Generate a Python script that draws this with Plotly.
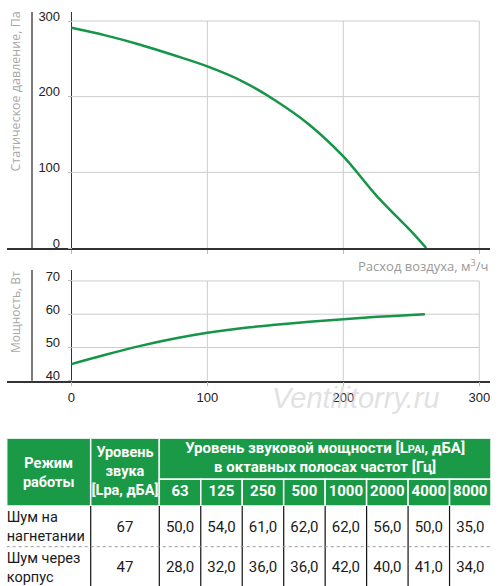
import plotly.graph_objects as go

# ---------------- data ----------------
flow_p = [0, 25, 50, 75, 100, 125, 150, 175, 200, 225, 250, 261]
pressure = [291, 281, 269, 255, 240, 221, 195, 163, 121, 68, 22, 0]
flow_w = [0, 25, 50, 75, 100, 125, 150, 175, 200, 225, 250, 260]
power = [45, 47.8, 50.4, 52.6, 54.4, 55.8, 56.8, 57.7, 58.5, 59.2, 59.8, 60]

flow_ticks = [0, 100, 200, 300]
p_ticks = [0, 100, 200, 300]
w_ticks = [40, 50, 60, 70]

head_mode = "Режим<br>работы"
head_level = "Уровень<br>звука<br>[Lpa, дБА]"
head_octave = "Уровень звуковой мощности [L<span style='font-size:11px'>PAI</span>, дБА]<br>в октавных полосах частот [Гц]"
modes = ["Шум на<br>нагнетании", "Шум через<br>корпус"]
levels = ["67", "47"]
freqs = ["63", "125", "250", "500", "1000", "2000", "4000", "8000"]
row_inlet = ["50,0", "54,0", "61,0", "62,0", "62,0", "56,0", "50,0", "35,0"]
row_case = ["28,0", "32,0", "36,0", "36,0", "42,0", "40,0", "41,0", "34,0"]
rows = [row_inlet, row_case]

# ---------------- style ----------------
W, H = 500, 586
GREEN = "#1a9a46"
CURVE = "#169447"
GRID = "#cccccc"
AXIS = "#333333"
NARROW = "Liberation Sans Narrow, Liberation Sans, sans-serif"
ROB = "Roboto, sans-serif"


def px(x):
    return x / W


def py(y):
    return 1 - y / H


fig = go.Figure()

fig.add_trace(go.Scatter(x=flow_p, y=pressure, mode="lines", line=dict(color=CURVE, width=2.5, shape="spline"),
                         xaxis="x", yaxis="y", hoverinfo="skip", showlegend=False))
fig.add_trace(go.Scatter(x=flow_w, y=power, mode="lines", line=dict(color=CURVE, width=2.5, shape="spline"),
                         xaxis="x2", yaxis="y2", hoverinfo="skip", showlegend=False))

xdom = [px(6.7), px(490)]
xr = [-47.6, 307.9]
yaxis_pos = px(71.7)

common_x = dict(domain=xdom, range=xr, showgrid=False, showline=True, linecolor=AXIS, linewidth=1.5,
                ticks="outside", ticklen=4, tickcolor="#bbbbbb", tickvals=flow_ticks, automargin=False,
                zeroline=True, zerolinecolor=AXIS, zerolinewidth=1.3, fixedrange=True)
common_y = dict(anchor="free", position=yaxis_pos, ticks="outside", ticklen=4, tickcolor="#bbbbbb",
                ticklabelposition="outside", ticklabelshift=-5, ticklabelstandoff=5,
                showgrid=False, zeroline=False, showline=False,
                automargin=False, tickfont=dict(family=NARROW, size=13, color="#222222"), fixedrange=True)
fig.update_layout(
    xaxis=dict(common_x, anchor="y", showticklabels=False),
    xaxis2=dict(common_x, anchor="y2", showticklabels=True,
                tickfont=dict(family=NARROW, size=13, color="#222222")),
    yaxis=dict(common_y, domain=[py(248), py(12)], range=[0, 311.9], tickvals=p_ticks),
    yaxis2=dict(common_y, domain=[py(380.7), py(270)], range=[40, 73.3], tickvals=w_ticks),
)

shapes = []
for v in p_ticks[1:]:
    shapes.append(dict(type="line", xref="x", yref="y", x0=0, x1=flow_ticks[-1], y0=v, y1=v,
                       line=dict(color=GRID, width=1), layer="below"))
for v in flow_ticks[1:]:
    shapes.append(dict(type="line", xref="x", yref="y", x0=v, x1=v, y0=0, y1=p_ticks[-1],
                       line=dict(color=GRID, width=1), layer="below"))
for v in w_ticks[1:]:
    shapes.append(dict(type="line", xref="x2", yref="y2", x0=0, x1=flow_ticks[-1], y0=v, y1=v,
                       line=dict(color=GRID, width=1), layer="below"))
for v in flow_ticks[1:]:
    shapes.append(dict(type="line", xref="x2", yref="y2", x0=v, x1=v, y0=w_ticks[0], y1=w_ticks[-1],
                       line=dict(color=GRID, width=1), layer="below"))
shapes.append(dict(type="line", xref="paper", yref="y domain", x0=px(32), x1=px(32), y0=0, y1=1,
                   line=dict(color=AXIS, width=1.3)))
shapes.append(dict(type="line", xref="paper", yref="y2 domain", x0=px(32), x1=px(32), y0=0, y1=1,
                   line=dict(color=AXIS, width=1.3)))

# ---------------- table (on its own hidden axes, units = pixels) ----------------
t_left, t_right, t_top = 6.7, 491.0, 438.3
col_w = [84.0, 68.6] + [(t_right - t_left - 84.0 - 68.6) / len(freqs)] * len(freqs)
row_h = [41.0, 26.7, 40.7, 40.7]          # header line 1, header line 2, data rows
edges = [0.0]
for w in col_w:
    edges.append(edges[-1] + w)
ry = [0.0]
for h in row_h:
    ry.append(ry[-1] + h)
total_w = edges[-1]

fig.update_layout(
    xaxis3=dict(domain=[px(t_left), px(t_right)], range=[0, total_w], visible=False, fixedrange=True, anchor="y3"),
    yaxis3=dict(domain=[0, py(t_top)], range=[H - t_top, 0], visible=False, fixedrange=True, anchor="x3"),
)


def cell_rect(x0, x1, y0, y1):
    return dict(type="rect", xref="x3", yref="y3", x0=x0, x1=x1, y0=y0, y1=y1, fillcolor=GREEN,
                line=dict(color="white", width=1.5), layer="below")


shapes.append(cell_rect(edges[0], edges[1], ry[0], ry[2]))
shapes.append(cell_rect(edges[1], edges[2], ry[0], ry[2]))
shapes.append(cell_rect(edges[2], edges[-1], ry[0], ry[1]))
for i in range(len(freqs)):
    shapes.append(cell_rect(edges[2 + i], edges[3 + i], ry[1], ry[2]))
for i in range(1, len(col_w)):
    shapes.append(dict(type="line", xref="x3", yref="y3", x0=edges[i], x1=edges[i], y0=ry[2],
                       y1=H - t_top, line=dict(color="#111111", width=1.2)))
shapes.append(dict(type="line", xref="x3", yref="y3", x0=0, x1=total_w, y0=ry[3], y1=ry[3],
                   line=dict(color="#999999", width=1, dash="dot")))

HFONT = dict(family=ROB, size=14.5, color="white")
MFONT = dict(family=ROB, size=14.5, color="#1a1a1a")
CFONT = dict(family=ROB, size=15, color="#1a1a1a")


def mid(a, b):
    return (a + b) / 2


# header text
fig.add_trace(go.Scatter(
    x=[mid(edges[0], edges[1]), mid(edges[1], edges[2])],
    y=[mid(ry[0], ry[2]) + 1.5, mid(ry[0], ry[2])],
    text=["<b>%s</b>" % t for t in (head_mode, head_level)],
    mode="text", textposition="middle center", textfont=HFONT,
    xaxis="x3", yaxis="y3", hoverinfo="skip", showlegend=False))
fig.add_trace(go.Scatter(
    x=[mid(edges[2], edges[-1])], y=[mid(ry[0], ry[1])],
    text=["<b>%s</b>" % head_octave],
    mode="text", textposition="middle center", textfont=dict(family=ROB, size=15, color="white"),
    xaxis="x3", yaxis="y3", hoverinfo="skip", showlegend=False))
fig.add_trace(go.Scatter(
    x=[mid(edges[2 + i], edges[3 + i]) for i in range(len(freqs))],
    y=[mid(ry[1], ry[2])] * len(freqs),
    text=["<b>%s</b>" % f for f in freqs],
    mode="text", textposition="middle center", textfont=dict(family=ROB, size=15, color="white"),
    xaxis="x3", yaxis="y3", hoverinfo="skip", showlegend=False))
# body text
row_mid = [mid(ry[2], ry[3]) + 1.5, mid(ry[3], ry[4]) + 1.5]
fig.add_trace(go.Scatter(
    x=[edges[0]] * len(modes), y=row_mid, text=modes,
    mode="text", textposition="middle right", textfont=MFONT,
    xaxis="x3", yaxis="y3", hoverinfo="skip", showlegend=False))
bx, by, bt = [], [], []
for r, (lev, vals) in enumerate(zip(levels, rows)):
    bx.append(mid(edges[1], edges[2]))
    by.append(row_mid[r])
    bt.append(lev)
    for i, v in enumerate(vals):
        bx.append(mid(edges[2 + i], edges[3 + i]))
        by.append(row_mid[r])
        bt.append(v)
fig.add_trace(go.Scatter(
    x=bx, y=by, text=bt, mode="text", textposition="middle center", textfont=CFONT,
    xaxis="x3", yaxis="y3", hoverinfo="skip", showlegend=False))

annotations = [
    dict(text="Статическое давление, Па", x=px(15), y=py(91.5), xref="paper", yref="paper", textangle=-90,
         xanchor="center", yanchor="middle", showarrow=False,
         font=dict(family="Open Sans, sans-serif", size=12.5, color="#a8a8a8")),
    dict(text="Мощность, Вт", x=px(15), y=py(312), xref="paper", yref="paper", textangle=-90,
         xanchor="center", yanchor="middle", showarrow=False,
         font=dict(family="Open Sans, sans-serif", size=12, color="#a8a8a8")),
    dict(text="Расход воздуха, м<sup>3</sup>/ч", x=px(490), y=py(265), xref="paper", yref="paper",
         xanchor="right", yanchor="middle", showarrow=False,
         font=dict(family="Open Sans, sans-serif", size=13, color="#999999")),
    dict(text="Ventilitorry.ru", x=px(356), y=py(398), xref="paper", yref="paper", showarrow=False,
         xanchor="center", yanchor="middle",
         font=dict(family="Liberation Sans, sans-serif", size=29, color="rgba(205,205,205,0.6)", style="italic")),
]

fig.update_layout(width=W, height=H, margin=dict(l=0, r=0, t=0, b=0), paper_bgcolor="white",
                  plot_bgcolor="white", shapes=shapes, annotations=annotations, showlegend=False)

fig.write_html("out.html", config={"displayModeBar": False},
               post_script="document.body.style.margin='0';document.body.style.overflow='hidden';")
